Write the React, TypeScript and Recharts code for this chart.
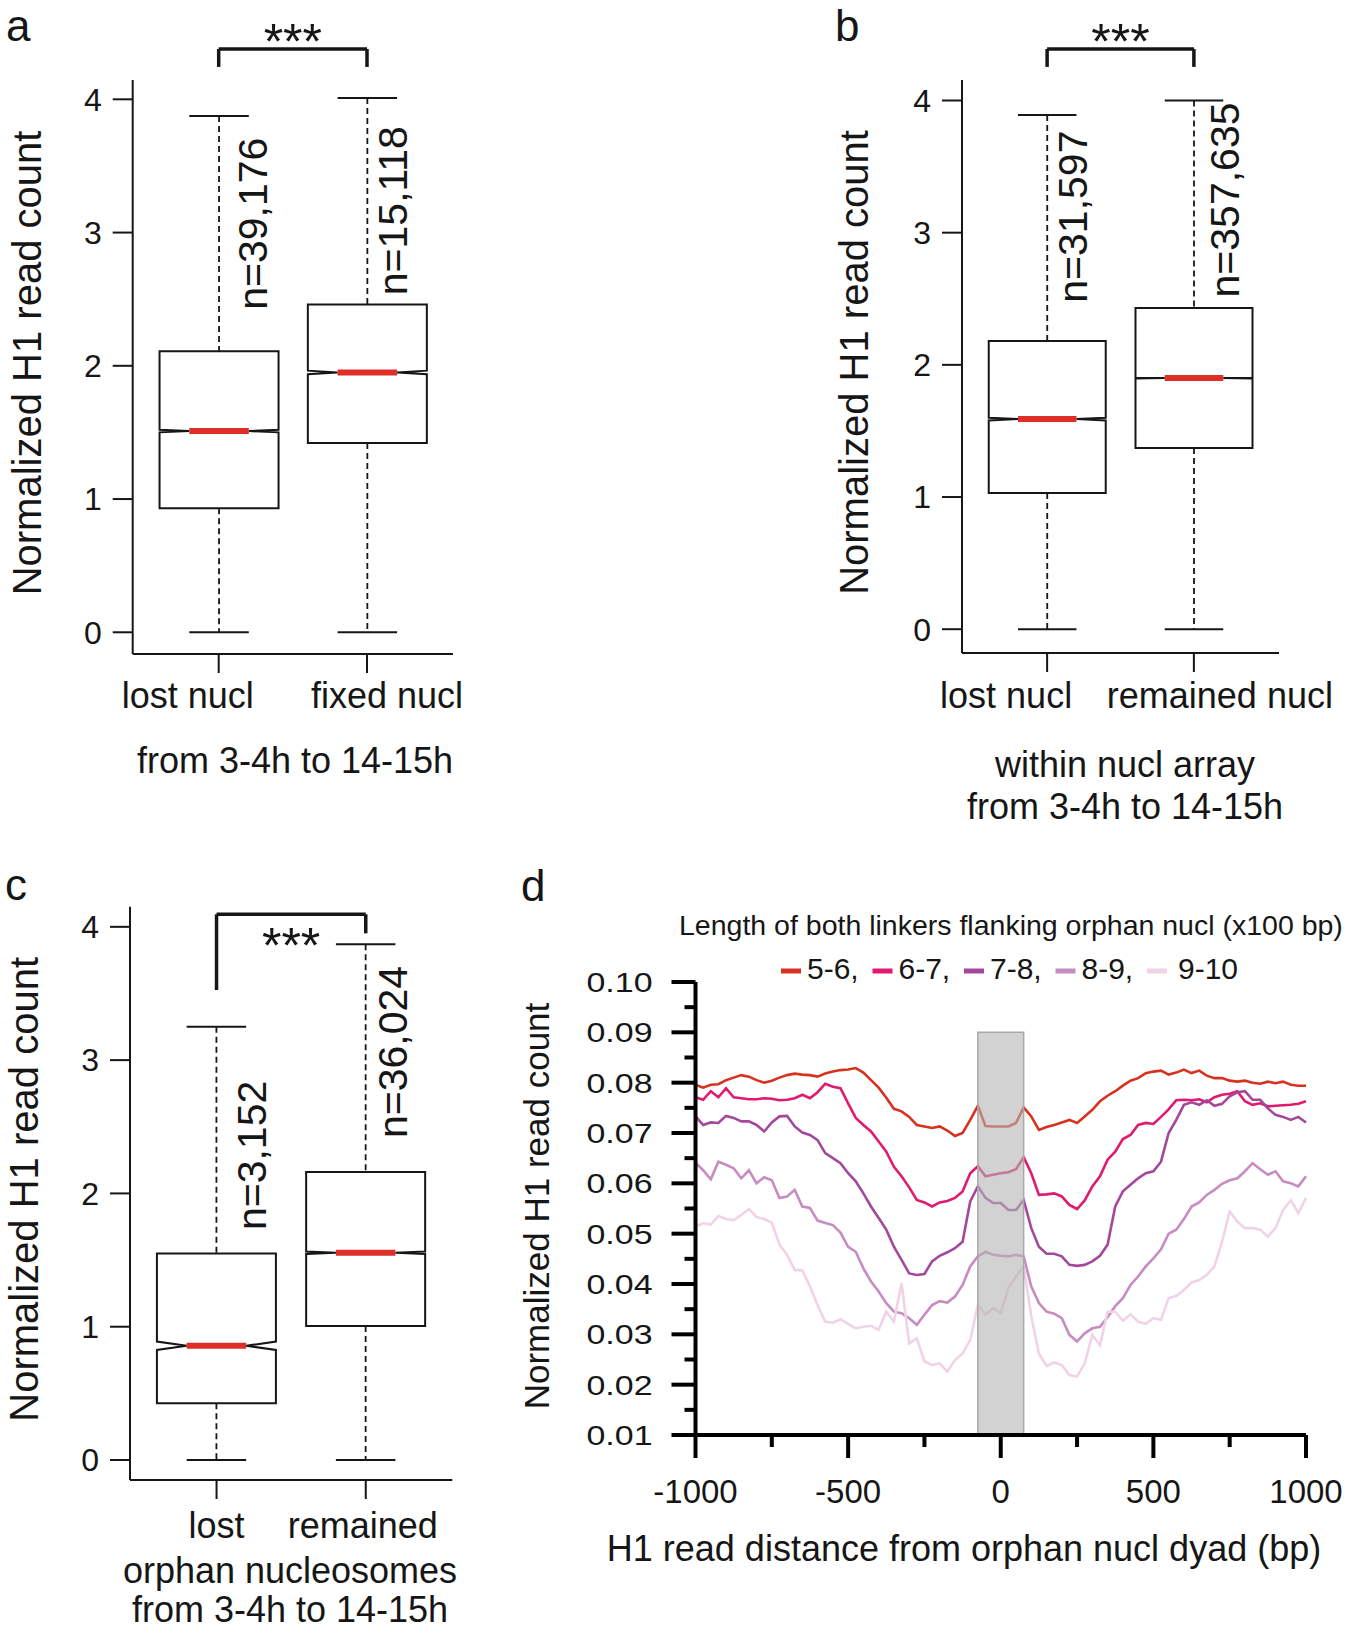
import React from "react";
import {
  BarChart,
  Bar,
  XAxis,
  YAxis,
  ReferenceLine,
  LineChart,
  Line,
  ReferenceArea,
  Legend,
} from "recharts";

const FONT = '"Liberation Sans", Arial, Helvetica, sans-serif';
const INK = "#161616";

// ---- panels a-c : notched boxplots, five numbers = [lower whisker, Q1, median, Q3, upper whisker]
const groupsA = ["lost nucl", "fixed nucl"];
const fiveNumA = [
  [0, 0.93, 1.51, 2.11, 3.875],
  [0, 1.42, 1.95, 2.46, 4.01],
];
const countsA = [39176, 15118];

const groupsB = ["lost nucl", "remained nucl"];
const fiveNumB = [
  [0, 1.03, 1.59, 2.18, 3.89],
  [0, 1.37, 1.9, 2.43, 4.0],
];
const countsB = [31597, 357635];

const groupsC = ["lost", "remained"];
const fiveNumC = [
  [0, 0.425, 0.857, 1.55, 3.25],
  [0, 1.005, 1.555, 2.16, 3.87],
];
const countsC = [3152, 36024];

const countTicks = [0, 1, 2, 3, 4];

// ---- panel d : H1 read profile around orphan nucleosome dyads
const linkerBins = ["5-6", "6-7", "7-8", "8-9", "9-10"];
const binKeys = ["b56", "b67", "b78", "b89", "b910"];
const legendTitle = "Length of both linkers flanking orphan nucl (x100 bp)";

const distanceBp = [
  -1000, -975, -950, -925, -900, -875, -850, -825, -800,
  -775, -750, -725, -700, -675, -650, -625, -600, -575,
  -550, -525, -500, -475, -450, -425, -400, -375, -350,
  -325, -300, -275, -250, -225, -200, -175, -150, -125,
  -100, -75, -50, -25, 0, 25, 50, 75, 100,
  125, 150, 175, 200, 225, 250, 275, 300, 325,
  350, 375, 400, 425, 450, 475, 500, 525, 550,
  575, 600, 625, 650, 675, 700, 725, 750, 775,
  800, 825, 850, 875, 900, 925, 950, 975, 1000,
];

const reads56 = [
  0.0796, 0.079, 0.0796, 0.0797, 0.0805, 0.081, 0.0815, 0.0812, 0.0805,
  0.08, 0.0804, 0.081, 0.0815, 0.0818, 0.0816, 0.0815, 0.0812, 0.0818,
  0.0822, 0.0825, 0.0826, 0.0829, 0.082, 0.0805, 0.079, 0.077, 0.0748,
  0.0743, 0.0732, 0.0716, 0.0713, 0.071, 0.0713, 0.0705, 0.0694, 0.07,
  0.0726, 0.0754, 0.0714, 0.0713, 0.0713, 0.0713, 0.072, 0.0751, 0.0733,
  0.0706, 0.0712, 0.0716, 0.0721, 0.0726, 0.072, 0.0733, 0.0746, 0.0763,
  0.0774, 0.0783, 0.0794, 0.0804, 0.0809, 0.0819, 0.0822, 0.0824, 0.0816,
  0.082, 0.0826, 0.0819, 0.0824, 0.0814, 0.0809, 0.0809, 0.0804, 0.0802,
  0.0804, 0.08, 0.0798, 0.0802, 0.0799, 0.0802, 0.0796, 0.0794, 0.0794,
];
const reads67 = [
  0.0771, 0.0766, 0.0783, 0.0771, 0.0789, 0.0771, 0.0769, 0.0767, 0.0767,
  0.0769, 0.0768, 0.0765, 0.0766, 0.0769, 0.0776, 0.0769, 0.0781, 0.0798,
  0.0792, 0.0789, 0.0759, 0.073, 0.0716, 0.0703, 0.0683, 0.0663, 0.0633,
  0.0614, 0.0592, 0.0567, 0.0562, 0.0554, 0.0562, 0.0565, 0.0571, 0.0584,
  0.062, 0.0634, 0.0614, 0.0617, 0.062, 0.0622, 0.0628, 0.0652, 0.062,
  0.0577, 0.0578, 0.058, 0.0574, 0.0557, 0.0549, 0.0566, 0.0594, 0.0614,
  0.0647, 0.0663, 0.0688, 0.0696, 0.0716, 0.072, 0.0718, 0.0732, 0.0747,
  0.0765, 0.0766, 0.0765, 0.0767, 0.0761, 0.0771, 0.0776, 0.0778, 0.0783,
  0.0763, 0.0756, 0.0759, 0.0753, 0.0754, 0.0755, 0.0756, 0.0758, 0.0763,
];
const reads78 = [
  0.0733, 0.0716, 0.0721, 0.072, 0.0734, 0.073, 0.0723, 0.0723, 0.0716,
  0.0703, 0.0721, 0.0733, 0.0734, 0.0713, 0.0701, 0.0696, 0.0686, 0.066,
  0.065, 0.064, 0.062, 0.0604, 0.058, 0.0554, 0.0531, 0.0508, 0.0474,
  0.0448, 0.0421, 0.0418, 0.042, 0.0445, 0.0456, 0.0463, 0.0471, 0.0484,
  0.0564, 0.0594, 0.0571, 0.0561, 0.0561, 0.0547, 0.0547, 0.0567, 0.0511,
  0.0474, 0.046, 0.046, 0.0455, 0.0438, 0.0436, 0.0438, 0.0445, 0.0456,
  0.0478, 0.0554, 0.0584, 0.0597, 0.061, 0.062, 0.0624, 0.0643, 0.07,
  0.0726, 0.0756, 0.0761, 0.0756, 0.0765, 0.0754, 0.0758, 0.0773, 0.0781,
  0.0783, 0.0766, 0.0766, 0.0749, 0.0736, 0.0732, 0.0726, 0.0732, 0.0721,
];
const reads89 = [
  0.0641, 0.0626, 0.0608, 0.0643, 0.0637, 0.063, 0.061, 0.0626, 0.06,
  0.0612, 0.0606, 0.0571, 0.0574, 0.0587, 0.0554, 0.0551, 0.0526, 0.0521,
  0.0517, 0.0502, 0.0474, 0.0464, 0.0431, 0.0405, 0.0385, 0.0362, 0.0345,
  0.0342, 0.0332, 0.0319, 0.0339, 0.0358, 0.0366, 0.0363, 0.0375, 0.0398,
  0.0435, 0.0455, 0.0464, 0.0458, 0.0456, 0.0455, 0.0458, 0.0455, 0.0395,
  0.0362, 0.0345, 0.0341, 0.0332, 0.0299, 0.0286, 0.0302, 0.0312, 0.0315,
  0.0334, 0.0356, 0.0372, 0.0398, 0.0415, 0.0435, 0.0451, 0.0469, 0.05,
  0.0508, 0.0529, 0.0554, 0.0562, 0.0577, 0.0587, 0.0599, 0.0606, 0.061,
  0.0624, 0.064, 0.0628, 0.0617, 0.0624, 0.0604, 0.06, 0.0594, 0.0614,
];
const reads910 = [
  0.0514, 0.0521, 0.0518, 0.0535, 0.0529, 0.0527, 0.0537, 0.0549, 0.0533,
  0.0529, 0.0522, 0.0478, 0.0458, 0.0428, 0.0427, 0.0395, 0.0358, 0.0325,
  0.0323, 0.033, 0.0321, 0.0312, 0.0315, 0.0317, 0.0309, 0.0345, 0.0325,
  0.0402, 0.0282, 0.0292, 0.0246, 0.0239, 0.0242, 0.0226, 0.0249, 0.0262,
  0.0289, 0.0358, 0.0339, 0.0352, 0.0342, 0.0392, 0.0415, 0.0435, 0.0336,
  0.0262, 0.0237, 0.0244, 0.0239, 0.0219, 0.0216, 0.0242, 0.0299, 0.0278,
  0.0345, 0.0345, 0.0327, 0.034, 0.0325, 0.0321, 0.0332, 0.0329, 0.0372,
  0.0376, 0.0388, 0.0403, 0.0408, 0.0418, 0.0435, 0.0484, 0.0544, 0.0524,
  0.0511, 0.0511, 0.0508, 0.0494, 0.0511, 0.0547, 0.0566, 0.0541, 0.0571,
];

const distTicks = [-1000, -750, -500, -250, 0, 250, 500, 750, 1000];
const readTicks = [
  0.01, 0.015, 0.02, 0.025, 0.03, 0.035, 0.04, 0.045, 0.05, 0.055,
  0.06, 0.065, 0.07, 0.075, 0.08, 0.085, 0.09, 0.095, 0.1,
];
const dyadWindow = [-75, 75];

const binColors = ["#d7321f", "#e01a6e", "#a3489c", "#c78cc1", "#f1d3e7"];

type BoxRow = {
  name: string;
  lo: number;
  q1: number;
  med: number;
  q3: number;
  hi: number;
  n: number;
  iqr: [number, number];
};

function makeRows(groups: string[], five: number[][], counts: number[]): BoxRow[] {
  return groups.map((name, i) => {
    const [lo, q1, med, q3, hi] = five[i];
    return { name, lo, q1, med, q3, hi, n: counts[i], iqr: [q1, q3] };
  });
}

const readSeries = [reads56, reads67, reads78, reads89, reads910];
const profileRows = distanceBp.map((x, i) => {
  const row: Record<string, number> = { x };
  binKeys.forEach((k, j) => {
    row[k] = readSeries[j][i];
  });
  return row;
});

// notched box, whiskers and count label; pixel scale is taken from the bar (Q1..Q3)
function NotchedBox(props: any) {
  const { x, y, width, height, payload, index, countLabels } = props;
  const { lo, q1, med, q3, hi, n } = payload as BoxRow;
  const top = Math.min(y, y + height);
  const k = Math.abs(height) / (q3 - q1);
  const py = (v: number) => top + (q3 - v) * k;
  const cx = x + width / 2;
  const inner = width / 4;
  const notch = (1.58 * (q3 - q1)) / Math.sqrt(n);
  const yMed = py(med);
  const yUp = py(med + notch);
  const yDn = py(med - notch);
  const yQ1 = py(q1);
  const yQ3 = py(q3);
  const yHi = py(hi);
  const yLo = py(lo);
  const L = x;
  const R = x + width;
  const pts = [
    [L, yQ1], [L, yDn], [cx - inner, yMed], [L, yUp], [L, yQ3],
    [R, yQ3], [R, yUp], [cx + inner, yMed], [R, yDn], [R, yQ1],
  ]
    .map((p) => p.join(","))
    .join(" ");
  const lab = countLabels[index];
  return (
    <g>
      <line x1={cx} x2={cx} y1={yHi} y2={yQ3} stroke={INK} strokeWidth={1.8} strokeDasharray="6 4" />
      <line x1={cx} x2={cx} y1={yQ1} y2={yLo} stroke={INK} strokeWidth={1.8} strokeDasharray="6 4" />
      <line x1={cx - inner} x2={cx + inner} y1={yHi} y2={yHi} stroke={INK} strokeWidth={2} />
      <line x1={cx - inner} x2={cx + inner} y1={yLo} y2={yLo} stroke={INK} strokeWidth={2} />
      <polygon points={pts} fill="#fff" stroke={INK} strokeWidth={2} />
      <line x1={cx - inner} x2={cx + inner} y1={yMed} y2={yMed} stroke="#dd2e28" strokeWidth={6} />
      <text
        transform={`translate(${cx + lab.dx} ${py(lab.at)}) rotate(-90)`}
        fontSize={41}
        fill={INK}
      >
        n={n.toLocaleString("en-US")}
      </text>
    </g>
  );
}

function GroupTick(props: any) {
  const { x, y, payload, index, offsets, dy } = props;
  return (
    <text x={x + offsets[index]} y={y + dy} textAnchor="middle" fontSize={36} fill={INK}>
      {payload.value}
    </text>
  );
}

type BoxCfg = {
  rows: BoxRow[];
  left: number;
  top: number;
  width: number;
  height: number;
  plotTop: number;
  right: number;
  axisW: number;
  axisH: number;
  domain: [number, number];
  barSize: number;
  tickDx: number[];
  tickDy: number;
  subtitle: { text: string; y: number }[];
  subX: number;
  yLabelX: number;
  countLabels: { dx: number; at: number }[];
  bracket: { top: number; left: number; right: number; starsY: number };
};

function BoxPanel({ cfg }: { cfg: BoxCfg }) {
  const plotW = cfg.width - cfg.axisW - cfg.right;
  const pad = plotW * 0.037;
  const [g0, g1] = cfg.rows.map((r) => r.name);
  const b = cfg.bracket;
  const bracketStroke = { stroke: INK, strokeWidth: 3.5 };
  return (
    <div style={{ position: "absolute", left: cfg.left, top: cfg.top }}>
      <BarChart
        width={cfg.width}
        height={cfg.height}
        data={cfg.rows}
        margin={{ top: cfg.plotTop, right: cfg.right, bottom: 0, left: 0 }}
      >
        <XAxis
          dataKey="name"
          padding={{ left: pad, right: pad }}
          height={cfg.axisH}
          interval={0}
          tickSize={19}
          tickMargin={0}
          tickLine={{ stroke: INK, strokeWidth: 2 }}
          axisLine={{ stroke: INK, strokeWidth: 2 }}
          tick={<GroupTick offsets={cfg.tickDx} dy={cfg.tickDy} />}
          label={() => (
            <g>
              {cfg.subtitle.map((s) => (
                <text key={s.text} x={cfg.subX} y={s.y} textAnchor="middle" fontSize={36} fill={INK}>
                  {s.text}
                </text>
              ))}
            </g>
          )}
        />
        <XAxis
          xAxisId="frame"
          orientation="top"
          height={0}
          tick={false}
          tickLine={false}
          axisLine={{ stroke: INK, strokeWidth: 2 }}
        />
        <YAxis
          type="number"
          domain={cfg.domain}
          allowDataOverflow
          ticks={countTicks}
          interval={0}
          width={cfg.axisW}
          tickSize={20}
          tickMargin={11}
          tickLine={{ stroke: INK, strokeWidth: 2 }}
          axisLine={{ stroke: INK, strokeWidth: 2 }}
          tick={{ fontSize: 32, fill: INK }}
          label={(lp: any) => {
            const vb = lp.viewBox || {};
            const cy = (vb.y ?? cfg.plotTop) + (vb.height ?? 0) / 2 - 4;
            return (
              <text
                transform={`translate(${cfg.yLabelX} ${cy}) rotate(-90)`}
                textAnchor="middle"
                dominantBaseline="central"
                fontSize={40}
                fill={INK}
              >
                Normalized H1 read count
              </text>
            );
          }}
        />
        <YAxis
          yAxisId="frame"
          orientation="right"
          width={0}
          type="number"
          domain={cfg.domain}
          allowDataOverflow
          tick={false}
          tickLine={false}
          axisLine={{ stroke: INK, strokeWidth: 2 }}
        />
        <Bar
          dataKey="iqr"
          barSize={cfg.barSize}
          fill="none"
          isAnimationActive={false}
          shape={(p: any) => <NotchedBox {...p} countLabels={cfg.countLabels} />}
        />
        <ReferenceLine
          segment={[{ x: g0, y: b.top }, { x: g1, y: b.top }]}
          ifOverflow="visible"
          {...bracketStroke}
          label={(lp: any) => {
            const vb = lp.viewBox || {};
            const cx =
              vb.x1 !== undefined ? (vb.x1 + vb.x2) / 2 : (vb.x ?? 0) + (vb.width ?? 0) / 2;
            return (
              <text x={cx} y={b.starsY} textAnchor="middle" fontSize={50} fill={INK}>
                ***
              </text>
            );
          }}
        />
        <ReferenceLine segment={[{ x: g0, y: b.left }, { x: g0, y: b.top }]} ifOverflow="visible" {...bracketStroke} />
        <ReferenceLine segment={[{ x: g1, y: b.right }, { x: g1, y: b.top }]} ifOverflow="visible" {...bracketStroke} />
      </BarChart>
    </div>
  );
}

function ReadTick(props: any) {
  const { x, y, payload } = props;
  const v = payload.value as number;
  const major = Math.abs(v * 100 - Math.round(v * 100)) < 1e-6;
  return (
    <g>
      <line x1={x - (major ? 24 : 11)} x2={x} y1={y} y2={y} stroke="#000" strokeWidth={4} />
      {major && (
        <text
          x={x - 43}
          y={y}
          dy="0.36em"
          textAnchor="end"
          fontSize={28}
          textLength={66}
          lengthAdjust="spacingAndGlyphs"
          fill={INK}
        >
          {v.toFixed(2)}
        </text>
      )}
    </g>
  );
}

function DistTick(props: any) {
  const { x, y, payload } = props;
  const v = payload.value as number;
  const major = v % 500 === 0;
  return (
    <g>
      <line x1={x} x2={x} y1={y} y2={y + (major ? 23 : 12)} stroke="#000" strokeWidth={4} />
      {major && (
        <text x={x} y={y + 68} textAnchor="middle" fontSize={33} fill={INK}>
          {v}
        </text>
      )}
    </g>
  );
}

function ProfileLegend(props: any) {
  const items = props.payload ?? [];
  return (
    <svg width={870} height={140} style={{ display: "block" }}>
      <text x={199} y={75} fontSize={28.5} fill={INK}>
        {legendTitle}
      </text>
      {items.map((it: any, i: number) => {
        const x0 = 301 + i * 91.5;
        const last = i === items.length - 1;
        return (
          <g key={it.value}>
            <line x1={x0} x2={x0 + 20} y1={111} y2={111} stroke={it.color} strokeWidth={5} />
            <text x={x0 + (last ? 31 : 26)} y={119} fontSize={30} fill={INK}>
              {it.value}
              {last ? "" : ","}
            </text>
          </g>
        );
      })}
    </svg>
  );
}

function ProfilePanel() {
  return (
    <div style={{ position: "absolute", left: 480, top: 860 }}>
      <LineChart
        width={870}
        height={773}
        data={profileRows}
        margin={{ top: 122, right: 44, bottom: 0, left: 0 }}
      >
        <XAxis
          dataKey="x"
          type="number"
          domain={[-1000, 1000]}
          ticks={distTicks}
          interval={0}
          height={198}
          tickSize={0}
          tickMargin={0}
          tickLine={false}
          axisLine={{ stroke: "#000", strokeWidth: 4 }}
          tick={<DistTick />}
          label={() => (
            <text x={484} y={701} textAnchor="middle" fontSize={36} fill={INK}>
              H1 read distance from orphan nucl dyad (bp)
            </text>
          )}
        />
        <YAxis
          type="number"
          domain={[0.01, 0.1]}
          allowDataOverflow
          ticks={readTicks}
          interval={0}
          width={215.5}
          tickSize={0}
          tickMargin={0}
          tickLine={false}
          axisLine={{ stroke: "#000", strokeWidth: 4 }}
          tick={<ReadTick />}
          label={() => (
            <text
              transform="translate(56 346) rotate(-90)"
              textAnchor="middle"
              dominantBaseline="central"
              fontSize={35}
              fill={INK}
            >
              Normalized H1 read count
            </text>
          )}
        />
        {binKeys.map((k, i) => (
          <Line
            key={k}
            dataKey={k}
            name={linkerBins[i]}
            type="linear"
            stroke={binColors[i]}
            strokeWidth={2.6}
            dot={false}
            activeDot={false}
            isAnimationActive={false}
          />
        ))}
        <ReferenceArea
          x1={dyadWindow[0]}
          x2={dyadWindow[1]}
          y1={0.01}
          y2={0.09}
          fill="#b4b4b4"
          fillOpacity={0.6}
          stroke="#a9a9a9"
          strokeWidth={1.5}
          ifOverflow="visible"
          zIndex={450}
        />
        <Legend
          layout="vertical"
          align="center"
          verticalAlign="middle"
          wrapperStyle={{ left: 0, top: 0, width: 870, height: 140, margin: 0 }}
          content={ProfileLegend}
        />
      </LineChart>
    </div>
  );
}

const panelA: BoxCfg = {
  rows: makeRows(groupsA, fiveNumA, countsA),
  left: 0, top: 0, width: 470, height: 840,
  plotTop: 80, right: 17, axisW: 132.7, axisH: 186,
  domain: [-0.163, 4.145], barSize: 119,
  tickDx: [-31, 20], tickDy: 35,
  subtitle: [{ text: "from 3-4h to 14-15h", y: 773 }], subX: 295,
  yLabelX: 27,
  countLabels: [{ dx: 48, at: 2.42 }, { dx: 40, at: 2.53 }],
  bracket: { top: 4.378, left: 4.243, right: 4.243, starsY: 59 },
};

const panelB: BoxCfg = {
  rows: makeRows(groupsB, fiveNumB, countsB),
  left: 800, top: 0, width: 550, height: 840,
  plotTop: 80, right: 71, axisW: 162, axisH: 187,
  domain: [-0.18, 4.155], barSize: 117,
  tickDx: [-41, 26], tickDy: 36,
  subtitle: [
    { text: "within nucl array", y: 777 },
    { text: "from 3-4h to 14-15h", y: 819 },
  ],
  subX: 325,
  yLabelX: 54,
  countLabels: [{ dx: 40, at: 2.47 }, { dx: 45, at: 2.51 }],
  bracket: { top: 4.39, left: 4.254, right: 4.254, starsY: 59 },
};

const panelC: BoxCfg = {
  rows: makeRows(groupsC, fiveNumC, countsC),
  left: 0, top: 860, width: 470, height: 773,
  plotTop: 46.7, right: 17.7, axisW: 130, axisH: 153,
  domain: [-0.15, 4.151], barSize: 119,
  tickDx: [0, -3], tickDy: 39,
  subtitle: [
    { text: "orphan nucleosomes", y: 723 },
    { text: "from 3-4h to 14-15h", y: 762 },
  ],
  subX: 290,
  yLabelX: 24,
  countLabels: [{ dx: 50, at: 1.725 }, { dx: 41, at: 2.415 }],
  bracket: { top: 4.094, left: 3.526, right: 3.951, starsY: 103 },
};

const letterStyle: React.CSSProperties = {
  position: "absolute",
  fontSize: 44,
  lineHeight: 1.2,
  color: INK,
};

export default function App() {
  return (
    <div
      style={{
        position: "relative",
        width: 1350,
        height: 1633,
        overflow: "hidden",
        background: "#fff",
        fontFamily: FONT,
        color: INK,
      }}
    >
      <style>{"body{margin:0;background:#fff}"}</style>
      <div style={{ ...letterStyle, left: 6, top: 0 }}>a</div>
      <div style={{ ...letterStyle, left: 835, top: 0 }}>b</div>
      <div style={{ ...letterStyle, left: 5, top: 859 }}>c</div>
      <div style={{ ...letterStyle, left: 521, top: 860 }}>d</div>
      <BoxPanel cfg={panelA} />
      <BoxPanel cfg={panelB} />
      <BoxPanel cfg={panelC} />
      <ProfilePanel />
    </div>
  );
}
